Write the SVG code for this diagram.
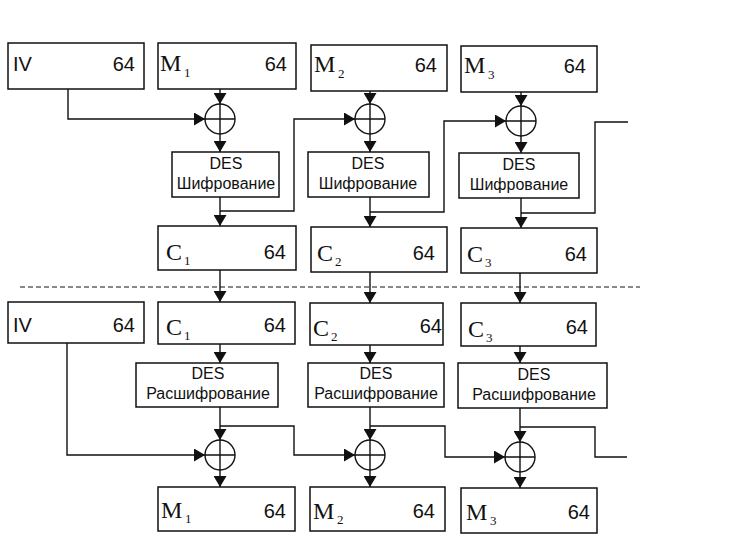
<svg xmlns="http://www.w3.org/2000/svg" width="744" height="541" viewBox="0 0 744 541">
<style>
.box{fill:#fff;stroke:#111;stroke-width:1.5}
.ln{fill:none;stroke:#111;stroke-width:1.4}
.x{fill:#fff;stroke:#111;stroke-width:1.4}
.t{font-family:"Liberation Sans",Arial,sans-serif;font-size:20px;fill:#111}
.r{text-anchor:end}
.s{font-family:"Liberation Serif","Times New Roman",serif;font-size:24px;fill:#111}
.sub{font-family:"Liberation Serif","Times New Roman",serif;font-size:13px;fill:#111}
.d{font-family:"Liberation Sans",Arial,sans-serif;font-size:16px;text-anchor:middle;fill:#111}
.dash{fill:none;stroke:#111;stroke-width:1.2;stroke-dasharray:5 3}
</style>
<defs>
<marker id="a" markerWidth="12" markerHeight="13" refX="11" refY="6.5" orient="auto" markerUnits="userSpaceOnUse"><path d="M0,0 L11,6.5 L0,13 z" fill="#111"/></marker>
</defs>
<rect width="744" height="541" fill="#fff"/>

<g id="connectors">
<line class="dash" x1="20" y1="287" x2="640" y2="287"/>
<path class="ln" d="M220,89 V104" marker-end="url(#a)"/>
<path class="ln" d="M370,91 V104" marker-end="url(#a)"/>
<path class="ln" d="M521,92 V106" marker-end="url(#a)"/>
<path class="ln" d="M220,134 V152" marker-end="url(#a)"/>
<path class="ln" d="M370,134 V152" marker-end="url(#a)"/>
<path class="ln" d="M521,136 V153" marker-end="url(#a)"/>
<path class="ln" d="M220,197 V226" marker-end="url(#a)"/>
<path class="ln" d="M370,197 V227" marker-end="url(#a)"/>
<path class="ln" d="M521,198 V228" marker-end="url(#a)"/>
<path class="ln" d="M68,89 V119 H205" marker-end="url(#a)"/>
<path class="ln" d="M220,211 H294 V119 H355" marker-end="url(#a)"/>
<path class="ln" d="M370,212 H444 V121 H506" marker-end="url(#a)"/>
<path class="ln" d="M521,213 H595 V122 H628"/>
<path class="ln" d="M220,270 V302" marker-end="url(#a)"/>
<path class="ln" d="M370,272 V303" marker-end="url(#a)"/>
<path class="ln" d="M520,273 V303" marker-end="url(#a)"/>
<path class="ln" d="M220,344 V363" marker-end="url(#a)"/>
<path class="ln" d="M370,345 V363" marker-end="url(#a)"/>
<path class="ln" d="M520,346 V363" marker-end="url(#a)"/>
<path class="ln" d="M220,407 V440" marker-end="url(#a)"/>
<path class="ln" d="M370,407 V440" marker-end="url(#a)"/>
<path class="ln" d="M520,408 V442" marker-end="url(#a)"/>
<path class="ln" d="M220,470 V487" marker-end="url(#a)"/>
<path class="ln" d="M370,470 V487" marker-end="url(#a)"/>
<path class="ln" d="M520,472 V488" marker-end="url(#a)"/>
<path class="ln" d="M67,343 V455 H205" marker-end="url(#a)"/>
<path class="ln" d="M220,426 H294 V455 H355" marker-end="url(#a)"/>
<path class="ln" d="M370,426 H445 V457 H505" marker-end="url(#a)"/>
<path class="ln" d="M520,427 H595 V457 H627"/>
</g>

<g id="iv-top"><rect class="box" x="8" y="43" width="136" height="46"/><text class="t" x="13" y="71">IV</text><text class="t r" x="135" y="71">64</text></g>
<g id="m1-top"><rect class="box" x="158" y="43" width="138" height="46"/><text class="s" x="160" y="71">M</text><text class="sub" x="184" y="77">1</text><text class="t r" x="287" y="71">64</text></g>
<g id="m2-top"><rect class="box" x="311" y="45" width="136" height="46"/><text class="s" x="314" y="72">M</text><text class="sub" x="338" y="78">2</text><text class="t r" x="437" y="72">64</text></g>
<g id="m3-top"><rect class="box" x="461" y="46" width="136" height="46"/><text class="s" x="464" y="73">M</text><text class="sub" x="488" y="79">3</text><text class="t r" x="586" y="73">64</text></g>

<g id="xor-e1"><circle class="x" cx="220" cy="119" r="15"/><path class="ln" d="M205,119 H235 M220,104 V134"/></g>
<g id="xor-e2"><circle class="x" cx="370" cy="119" r="15"/><path class="ln" d="M355,119 H385 M370,104 V134"/></g>
<g id="xor-e3"><circle class="x" cx="521" cy="121" r="15"/><path class="ln" d="M506,121 H536 M521,106 V136"/></g>

<g id="des-e1"><rect class="box" x="172" y="152" width="107" height="45"/><text class="d" x="226" y="169">DES</text><text class="d" x="226" y="189">Шифрование</text></g>
<g id="des-e2"><rect class="box" x="308" y="152" width="121" height="45"/><text class="d" x="368" y="169">DES</text><text class="d" x="368" y="189">Шифрование</text></g>
<g id="des-e3"><rect class="box" x="459" y="153" width="120" height="45"/><text class="d" x="519" y="170">DES</text><text class="d" x="519" y="190">Шифрование</text></g>

<g id="c1-top"><rect class="box" x="158" y="226" width="138" height="44"/><text class="s" x="166" y="260">C</text><text class="sub" x="184" y="265">1</text><text class="t r" x="286" y="259">64</text></g>
<g id="c2-top"><rect class="box" x="311" y="227" width="136" height="45"/><text class="s" x="317" y="261">C</text><text class="sub" x="335" y="266">2</text><text class="t r" x="435" y="260">64</text></g>
<g id="c3-top"><rect class="box" x="461" y="228" width="136" height="45"/><text class="s" x="467" y="262">C</text><text class="sub" x="485" y="267">3</text><text class="t r" x="587" y="261">64</text></g>

<g id="iv-bot"><rect class="box" x="8" y="302" width="136" height="41"/><text class="t" x="13" y="332">IV</text><text class="t r" x="135" y="332">64</text></g>
<g id="c1-bot"><rect class="box" x="158" y="302" width="137" height="42"/><text class="s" x="166" y="335">C</text><text class="sub" x="184" y="340">1</text><text class="t r" x="286" y="332">64</text></g>
<g id="c2-bot"><rect class="box" x="310" y="303" width="133" height="42"/><text class="s" x="313" y="336">C</text><text class="sub" x="331" y="341">2</text><text class="t r" x="442" y="333">64</text></g>
<g id="c3-bot"><rect class="box" x="461" y="303" width="135" height="43"/><text class="s" x="468" y="337">C</text><text class="sub" x="486" y="342">3</text><text class="t r" x="588" y="334">64</text></g>

<g id="des-d1"><rect class="box" x="136" y="363" width="142" height="44"/><text class="d" x="208" y="379">DES</text><text class="d" x="208" y="399">Расшифрование</text></g>
<g id="des-d2"><rect class="box" x="308" y="363" width="136" height="44"/><text class="d" x="376" y="379">DES</text><text class="d" x="376" y="399">Расшифрование</text></g>
<g id="des-d3"><rect class="box" x="458" y="363" width="149" height="45"/><text class="d" x="534" y="380">DES</text><text class="d" x="534" y="400">Расшифрование</text></g>

<g id="xor-d1"><circle class="x" cx="220" cy="455" r="15"/><path class="ln" d="M205,455 H235 M220,440 V470"/></g>
<g id="xor-d2"><circle class="x" cx="370" cy="455" r="15"/><path class="ln" d="M355,455 H385 M370,440 V470"/></g>
<g id="xor-d3"><circle class="x" cx="520" cy="457" r="15"/><path class="ln" d="M505,457 H535 M520,442 V472"/></g>

<g id="m1-bot"><rect class="box" x="158" y="487" width="137" height="44"/><text class="s" x="161" y="518">M</text><text class="sub" x="185" y="523">1</text><text class="t r" x="286" y="518">64</text></g>
<g id="m2-bot"><rect class="box" x="310" y="487" width="135" height="44"/><text class="s" x="313" y="519">M</text><text class="sub" x="337" y="524">2</text><text class="t r" x="435" y="518">64</text></g>
<g id="m3-bot"><rect class="box" x="461" y="488" width="136" height="45"/><text class="s" x="466" y="520">M</text><text class="sub" x="490" y="525">3</text><text class="t r" x="590" y="519">64</text></g>
</svg>
